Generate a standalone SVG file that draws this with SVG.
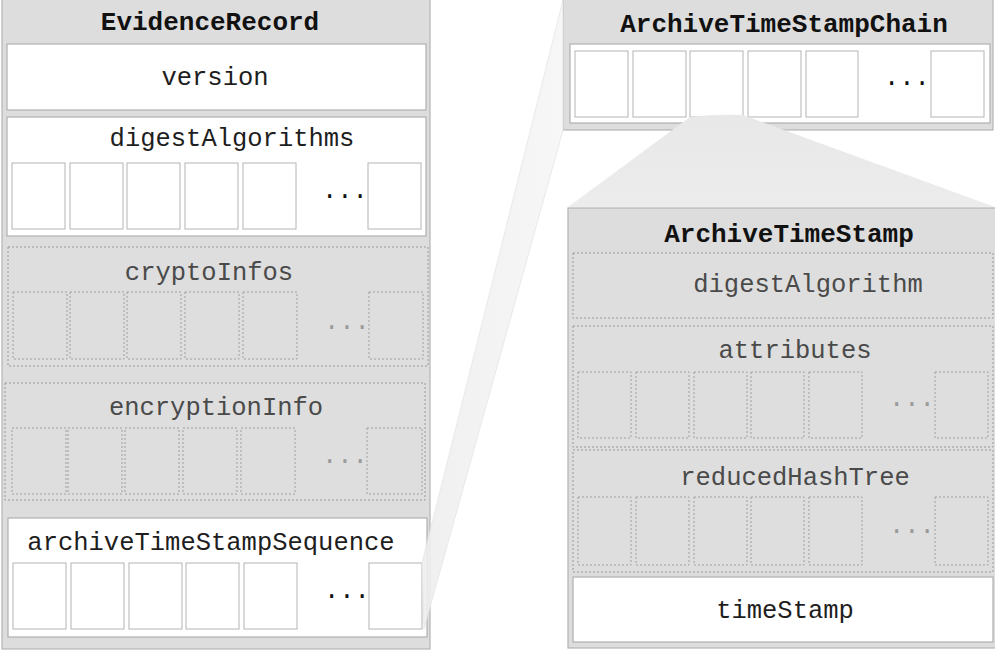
<svg xmlns="http://www.w3.org/2000/svg" width="995" height="656" viewBox="0 0 995 656">
<defs>
<style>
.panel{fill:#dddddd;stroke:#b4b4b4;stroke-width:1.2}
.wbox{fill:#ffffff;stroke:#b0b0b0;stroke-width:1.2}
.cell{fill:#ffffff;stroke:#b4b4b4;stroke-width:1}
.dbox{fill:#dedede;stroke:#9a9a9a;stroke-width:1;stroke-dasharray:2,2}
.dcell{fill:#dedede;stroke:#a0a0a0;stroke-width:1;stroke-dasharray:2,2}
.title{font-family:"Liberation Mono","DejaVu Sans Mono",monospace;font-size:26px;font-weight:bold;fill:#111;text-anchor:middle}
.lbl{font-family:"Liberation Mono","DejaVu Sans Mono",monospace;font-size:25.5px;fill:#1e1e1e;text-anchor:middle}
.glbl{font-family:"Liberation Mono","DejaVu Sans Mono",monospace;font-size:25.5px;fill:#4a4a4a;text-anchor:middle}
.dots{font-family:"Liberation Mono","DejaVu Sans Mono",monospace;font-size:25.5px;fill:#111}
.gdots{font-family:"Liberation Mono","DejaVu Sans Mono",monospace;font-size:25.5px;fill:#9a9a9a}
</style>
<linearGradient id="wedgeBig" x1="0" y1="0" x2="1" y2="0">
<stop offset="0" stop-color="#eeeeee"/>
<stop offset="1" stop-color="#f6f6f6"/>
</linearGradient>
<linearGradient id="wedgeSmall" x1="0" y1="0" x2="0" y2="1">
<stop offset="0" stop-color="#e8e8e8"/>
<stop offset="1" stop-color="#ececec"/>
</linearGradient>
</defs>
<rect width="995" height="656" fill="#ffffff"/>

<g id="EvidenceRecord">
<rect class="panel" x="2" y="-5" width="428" height="654"/>
<text class="title" x="210" y="30">EvidenceRecord</text>
<g id="version">
<rect class="wbox" x="7" y="44" width="419" height="66"/>
<text class="lbl" x="215" y="85">version</text>
</g>
<g id="digestAlgorithms">
<rect class="wbox" x="7" y="117" width="419" height="119"/>
<text class="lbl" x="232" y="146">digestAlgorithms</text>
<rect class="cell" x="12" y="163" width="53" height="66"/>
<rect class="cell" x="70" y="163" width="53" height="66"/>
<rect class="cell" x="127" y="163" width="53" height="66"/>
<rect class="cell" x="185" y="163" width="53" height="66"/>
<rect class="cell" x="243" y="163" width="53" height="66"/>
<text class="dots" x="322" y="198">...</text>
<rect class="cell" x="368" y="163" width="53" height="66"/>
</g>
<g id="cryptoInfos">
<rect class="dbox" x="8" y="247" width="420" height="119"/>
<text class="glbl" x="209" y="280">cryptoInfos</text>
<rect class="dcell" x="13" y="292" width="54" height="67"/>
<rect class="dcell" x="70" y="292" width="54" height="67"/>
<rect class="dcell" x="127" y="292" width="54" height="67"/>
<rect class="dcell" x="185" y="292" width="54" height="67"/>
<rect class="dcell" x="243" y="292" width="54" height="67"/>
<text class="gdots" x="324" y="329">...</text>
<rect class="dcell" x="369" y="292" width="54" height="67"/>
</g>
<g id="encryptionInfo">
<rect class="dbox" x="5" y="383" width="420" height="117"/>
<text class="glbl" x="216" y="415">encryptionInfo</text>
<rect class="dcell" x="12" y="428" width="54" height="66"/>
<rect class="dcell" x="68" y="428" width="54" height="66"/>
<rect class="dcell" x="125" y="428" width="54" height="66"/>
<rect class="dcell" x="183" y="428" width="54" height="66"/>
<rect class="dcell" x="241" y="428" width="54" height="66"/>
<text class="gdots" x="322" y="463">...</text>
<rect class="dcell" x="367" y="428" width="55" height="66"/>
</g>
<g id="archiveTimeStampSequence">
<rect class="wbox" x="8" y="518" width="419" height="119"/>
<text class="lbl" x="211" y="550">archiveTimeStampSequence</text>
<rect class="cell" x="13" y="563" width="53" height="66"/>
<rect class="cell" x="71" y="563" width="53" height="66"/>
<rect class="cell" x="129" y="563" width="53" height="66"/>
<rect class="cell" x="186" y="563" width="53" height="66"/>
<rect class="cell" x="244" y="563" width="53" height="66"/>
<text class="dots" x="324" y="598">...</text>
<rect class="cell" x="369" y="563" width="53" height="66"/>
</g>
</g>

<g id="ArchiveTimeStampChain">
<rect class="panel" x="563" y="-5" width="430" height="135"/>
<text class="title" x="784" y="32">ArchiveTimeStampChain</text>
<rect class="wbox" x="570" y="44" width="420" height="79"/>
<rect class="cell" x="575" y="51" width="53" height="66"/>
<rect class="cell" x="633" y="51" width="53" height="66"/>
<rect class="cell" x="690" y="51" width="53" height="66"/>
<rect class="cell" x="748" y="51" width="53" height="66"/>
<rect class="cell" x="806" y="51" width="52" height="66"/>
<text class="dots" x="884" y="85">...</text>
<rect class="cell" x="931" y="51" width="53" height="66"/>
</g>

<g id="ArchiveTimeStamp">
<rect class="panel" x="568" y="208" width="430" height="440"/>
<text class="title" x="789" y="242">ArchiveTimeStamp</text>
<g id="digestAlgorithm">
<rect class="dbox" x="573" y="253" width="420" height="65"/>
<text class="glbl" x="808" y="292">digestAlgorithm</text>
</g>
<g id="attributes">
<rect class="dbox" x="573" y="326" width="420" height="121"/>
<text class="glbl" x="795" y="358">attributes</text>
<rect class="dcell" x="578" y="372" width="53" height="66"/>
<rect class="dcell" x="636" y="372" width="53" height="66"/>
<rect class="dcell" x="694" y="372" width="53" height="66"/>
<rect class="dcell" x="751" y="372" width="53" height="66"/>
<rect class="dcell" x="809" y="372" width="53" height="66"/>
<text class="gdots" x="889" y="406">...</text>
<rect class="dcell" x="935" y="372" width="53" height="66"/>
</g>
<g id="reducedHashTree">
<rect class="dbox" x="573" y="450" width="420" height="122"/>
<text class="glbl" x="795" y="485">reducedHashTree</text>
<rect class="dcell" x="578" y="497" width="53" height="68"/>
<rect class="dcell" x="636" y="497" width="53" height="68"/>
<rect class="dcell" x="694" y="497" width="53" height="68"/>
<rect class="dcell" x="751" y="497" width="53" height="68"/>
<rect class="dcell" x="809" y="497" width="53" height="68"/>
<text class="gdots" x="889" y="533">...</text>
<rect class="dcell" x="935" y="497" width="53" height="68"/>
</g>
<g id="timeStamp">
<rect class="wbox" x="573" y="577" width="420" height="65"/>
<text class="lbl" x="785" y="618">timeStamp</text>
</g>
</g>

<g id="connectors">
<polygon points="422,563 563,0 563,130 424,629" fill="url(#wedgeBig)" fill-opacity="0.9" stroke="#e4e4e4" stroke-width="0.8"/>
<path d="M690,117 Q716,114 743,115 L995,207 L568,207 Z" fill="url(#wedgeSmall)"/>
</g>
</svg>
